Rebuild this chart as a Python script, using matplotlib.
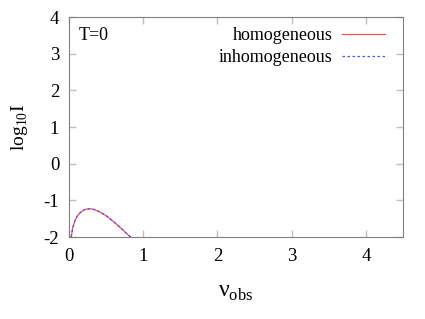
import matplotlib
matplotlib.use("Agg")
import matplotlib.pyplot as plt

# curve (log10 I vs nu_obs), both models coincide at T=0
nu_obs = [0.03, 0.05, 0.08, 0.12, 0.17, 0.22, 0.27, 0.32, 0.40, 0.50, 0.60, 0.70, 0.80, 0.83]
logI_hom = [-2.0, -1.75, -1.55, -1.40, -1.30, -1.245, -1.23, -1.24, -1.30, -1.42, -1.58, -1.76, -1.95, -2.0]
logI_inhom = [-2.0, -1.75, -1.55, -1.40, -1.30, -1.245, -1.23, -1.24, -1.30, -1.42, -1.58, -1.76, -1.95, -2.0]

xticks = [0, 1, 2, 3, 4]
yticks = [-2, -1, 0, 1, 2, 3, 4]

plt.rcParams['font.family'] = ['Liberation Serif', 'DejaVu Serif']
plt.rcParams['mathtext.fontset'] = 'custom'
plt.rcParams['mathtext.rm'] = 'Liberation Serif'

fig = plt.figure(figsize=(4.25, 3.19), dpi=100)
ax = fig.add_axes([69/425, 1 - 237/319, (403-69)/425, (237-17)/319])

ax.plot(nu_obs, logI_hom, color='#ff5050', lw=0.9, label='homogeneous')
ax.plot(nu_obs, logI_inhom, color='#5050ff', lw=0.9, ls=(0, (2, 2)), label='inhomogeneous')

ax.set_xlim(0, 4.5)
ax.set_ylim(-2, 4)
ax.set_xticks(xticks)
ax.set_yticks(yticks)
ax.set_yticklabels([str(v) for v in yticks])
ax.tick_params(direction='in', length=5, width=1, color='#c0c0c0', labelsize=13.5,
               top=True, right=True)
ax.tick_params(axis='x', pad=8)
ax.tick_params(axis='y', pad=7)
for s in ax.spines.values():
    s.set_color('#808080')
    s.set_linewidth(0.8)

ax.set_xlabel('ν$_{\\rm obs}$', fontsize=17, labelpad=12)
ax.set_ylabel('log$_{10}$I', fontsize=14, labelpad=10)
ax.text(0.03, 0.915, 'T=0', transform=ax.transAxes, fontsize=13, va='center')

leg = ax.legend(loc='upper right', bbox_to_anchor=(1 - 18/334, 1 - 10/220), frameon=False,
                fontsize=13, markerfirst=False, handlelength=2.4, borderaxespad=0,
                borderpad=0, labelspacing=0.3, handletextpad=0.5)
for t in leg.get_texts():
    t.set_ha('right')

fig.savefig('out.png', dpi=100)
